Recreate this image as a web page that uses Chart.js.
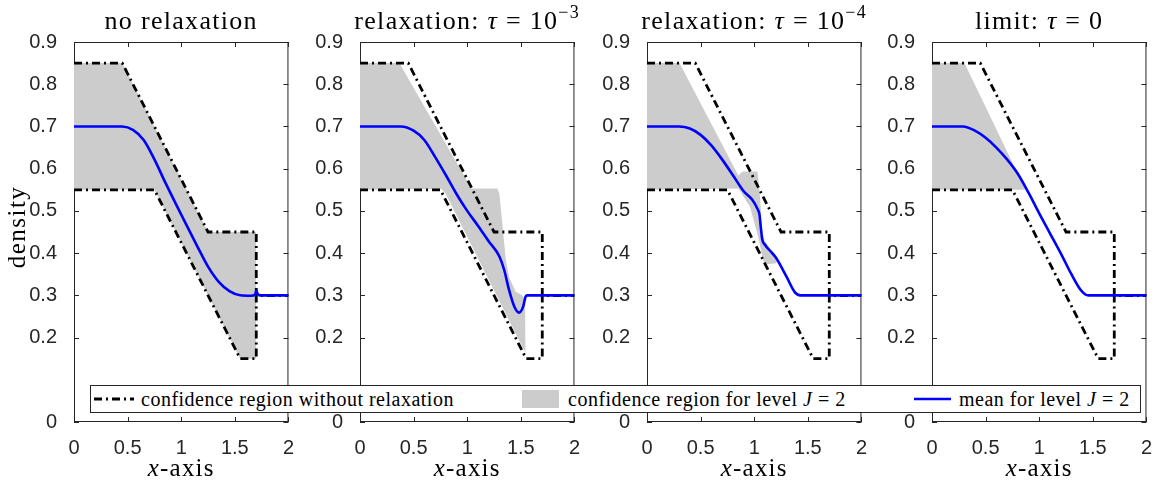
<!DOCTYPE html>
<html>
<head>
<meta charset="utf-8">
<script src="https://cdn.jsdelivr.net/npm/chart.js@4.4.0/dist/chart.umd.min.js"></script>
<style>
  html, body { margin: 0; padding: 0; background: #fff; }
  #wrap { position: relative; width: 1162px; height: 487px; overflow: hidden; }
  .panel { position: absolute; top: 0; }
  #legend { position: absolute; left: 90px; top: 385px; width: 1049px; height: 26px; border: 1px solid #262626; background: #fff;
            font-family: 'Liberation Serif', serif; font-size: 20px; letter-spacing: 0.5px; color: #000; }
  #legend .item { position: absolute; top: 0; line-height: 26px; white-space: nowrap; }
  #legend svg { position: absolute; top: 0; }
</style>
</head>
<body>
<div id="wrap">
  <canvas class="panel" id="p0" width="300" height="487" style="left:0px"></canvas>
  <canvas class="panel" id="p1" width="300" height="487" style="left:286px"></canvas>
  <canvas class="panel" id="p2" width="300" height="487" style="left:573px"></canvas>
  <canvas class="panel" id="p3" width="300" height="487" style="left:858px"></canvas>
  <div id="legend">
    <svg style="left:3px" width="40" height="26"><line x1="0" y1="13" x2="40" y2="13" stroke="#000" stroke-width="2.8" stroke-dasharray="8 4 2 4"/></svg>
    <span class="item" style="left:50px">confidence region without relaxation</span>
    <div style="position:absolute;left:431px;top:4px;width:37px;height:18px;background:#cccccc"></div>
    <span class="item" style="left:477px">confidence region for level <i>J</i> = 2</span>
    <svg style="left:823px" width="37" height="26"><line x1="0" y1="13" x2="37" y2="13" stroke="#0000ff" stroke-width="2.6"/></svg>
    <span class="item" style="left:868px">mean for level <i>J</i> = 2</span>
  </div>
</div>
<script>
// axes
const xTicks = [0, 0.5, 1, 1.5, 2];
const yTicks = [0, 0.2, 0.3, 0.4, 0.5, 0.6, 0.7, 0.8, 0.9];

// confidence region without relaxation (same in all panels)
const outerUpperX = [0, 0.45, 1.25, 1.70, 1.70, 2.0];
const outerUpperY = [0.85, 0.85, 0.45, 0.45, 0.30, 0.30];
const outerLowerX = [0, 0.75, 1.55, 1.70, 1.70, 2.0];
const outerLowerY = [0.55, 0.55, 0.15, 0.15, 0.30, 0.30];

// no relaxation
const band1UpperX = [0, 0.45, 1.25, 1.70];
const band1UpperY = [0.85, 0.85, 0.45, 0.45];
const band1LowerX = [0, 0.75, 1.55, 1.70];
const band1LowerY = [0.55, 0.55, 0.15, 0.15];
const mean1X = [0, 0.45, 0.55, 0.65, 0.75, 0.85, 1.0, 1.15, 1.25, 1.35, 1.45, 1.55, 1.65, 1.69, 1.70, 1.71, 1.73, 2.0];
const mean1Y = [0.70, 0.70, 0.692, 0.668, 0.622, 0.568, 0.491, 0.416, 0.368, 0.332, 0.31, 0.30, 0.299, 0.302, 0.311, 0.305, 0.30, 0.30];

// relaxation tau = 1e-3
const band2UpperX = [0, 0.367, 1.04, 1.28, 1.30, 1.33, 1.36, 1.39, 1.45, 1.51, 1.54, 1.545];
const band2UpperY = [0.85, 0.85, 0.553, 0.553, 0.541, 0.463, 0.384, 0.344, 0.309, 0.301, 0.29, 0.165];
const band2LowerX = [0, 0.76, 0.80, 1.53, 1.545];
const band2LowerY = [0.55, 0.552, 0.54, 0.17, 0.165];
const mean2X = [0, 0.38, 0.5, 0.6, 0.7, 0.8, 0.9, 1.0, 1.1, 1.2, 1.3, 1.345, 1.39, 1.44, 1.483, 1.52, 1.545, 1.56, 2.0];
const mean2Y = [0.70, 0.70, 0.69, 0.668, 0.628, 0.585, 0.54, 0.50, 0.465, 0.428, 0.392, 0.36, 0.313, 0.273, 0.259, 0.272, 0.297, 0.30, 0.30];

// relaxation tau = 1e-4
const band3UpperX = [0, 0.303, 0.853, 0.875, 0.90, 1.03, 1.043, 1.061, 1.067, 1.098, 1.15, 1.205, 1.21];
const band3UpperY = [0.85, 0.85, 0.583, 0.59, 0.593, 0.593, 0.565, 0.51, 0.455, 0.43, 0.41, 0.392, 0.376];
const band3LowerX = [0, 0.853, 0.96, 1.037, 1.083, 1.098, 1.21];
const band3LowerY = [0.55, 0.553, 0.51, 0.439, 0.384, 0.373, 0.376];
const mean3X = [0, 0.30, 0.40, 0.50, 0.60, 0.70, 0.80, 0.90, 0.98, 1.03, 1.05, 1.06, 1.075, 1.10, 1.15, 1.20, 1.30, 1.38, 1.43, 2.0];
const mean3Y = [0.70, 0.70, 0.695, 0.68, 0.655, 0.622, 0.585, 0.547, 0.527, 0.505, 0.49, 0.465, 0.432, 0.42, 0.405, 0.39, 0.345, 0.307, 0.30, 0.30];

// limit tau = 0
const band4UpperX = [0, 0.303, 0.869];
const band4UpperY = [0.85, 0.85, 0.551];
const band4LowerX = [0, 0.869];
const band4LowerY = [0.55, 0.55];
const mean4X = [0, 0.29, 0.40, 0.50, 0.60, 0.70, 0.80, 0.90, 1.00, 1.10, 1.20, 1.30, 1.38, 1.43, 1.46, 2.0];
const mean4Y = [0.70, 0.70, 0.69, 0.673, 0.65, 0.622, 0.588, 0.543, 0.494, 0.447, 0.40, 0.35, 0.315, 0.302, 0.30, 0.30];

const titles = [
  [{t: 'no relaxation'}],
  [{t: 'relaxation: '}, {t: 'τ', it: true}, {t: ' = 10'}, {t: '−3', sup: true}],
  [{t: 'relaxation: '}, {t: 'τ', it: true}, {t: ' = 10'}, {t: '−4', sup: true}],
  [{t: 'limit: '}, {t: 'τ', it: true}, {t: ' = 0'}]
];

const panels = [
  {band: [band1UpperX, band1UpperY, band1LowerX, band1LowerY], mean: [mean1X, mean1Y]},
  {band: [band2UpperX, band2UpperY, band2LowerX, band2LowerY], mean: [mean2X, mean2Y]},
  {band: [band3UpperX, band3UpperY, band3LowerX, band3LowerY], mean: [mean3X, mean3Y]},
  {band: [band4UpperX, band4UpperY, band4LowerX, band4LowerY], mean: [mean4X, mean4Y]}
];

const axisColor = '#262626';
const pts = (xs, ys) => xs.map((x, i) => ({x: x, y: ys[i]}));

function drawParts(ctx, parts, cx, baseline, size, spacing) {
  const fontFor = p => (p.it ? 'italic ' : '') + (p.sup ? Math.round(size * 0.7) : size) + 'px "Liberation Serif", serif';
  ctx.letterSpacing = spacing + 'px';
  let w = 0;
  parts.forEach(p => { ctx.font = fontFor(p); p.w = ctx.measureText(p.t).width; w += p.w; });
  let x = cx - w / 2;
  ctx.textAlign = 'left';
  ctx.textBaseline = 'alphabetic';
  parts.forEach(p => {
    ctx.font = fontFor(p);
    ctx.fillText(p.t, x, baseline - (p.sup ? size * 0.42 : 0));
    x += p.w;
  });
}

// box with inward ticks, like the original axes
const frame = {
  id: 'frame',
  beforeDatasetsDraw(chart) {
    const ctx = chart.ctx, a = chart.chartArea;
    const xs = chart.scales.x, ys = chart.scales.y;
    ctx.save();
    ctx.strokeStyle = axisColor;
    ctx.lineWidth = 1;
    ctx.beginPath();
    ctx.rect(a.left + 0.5, a.top + 0.5, a.right - a.left - 1, a.bottom - a.top - 1);
    xTicks.forEach(v => {
      const px = Math.round(xs.getPixelForValue(v)) + 0.5;
      ctx.moveTo(px, a.bottom); ctx.lineTo(px, a.bottom - 5);
      ctx.moveTo(px, a.top); ctx.lineTo(px, a.top + 5);
    });
    yTicks.forEach(v => {
      const py = Math.round(ys.getPixelForValue(v)) + 0.5;
      ctx.moveTo(a.left, py); ctx.lineTo(a.left + 5, py);
      ctx.moveTo(a.right, py); ctx.lineTo(a.right - 5, py);
    });
    ctx.stroke();
    ctx.restore();
  },
  afterDraw(chart, args, opts) {
    const ctx = chart.ctx, a = chart.chartArea;
    const cx = (a.left + a.right) / 2;
    ctx.save();
    ctx.fillStyle = '#000';
    drawParts(ctx, opts.title, cx, 29, 26, 1.3);
    drawParts(ctx, [{t: 'x', it: true}, {t: '-axis'}], cx, 476, 25, 1.2);
    if (opts.ylabel) {
      ctx.translate(25, 227);
      ctx.rotate(-Math.PI / 2);
      drawParts(ctx, [{t: 'density'}], 0, 0, 25, 1.5);
    }
    ctx.restore();
  }
};

Chart.defaults.font.family = '"Liberation Sans", Arial, sans-serif';
Chart.defaults.font.size = 20;
Chart.defaults.color = axisColor;

const dashStyle = [8, 4, 2, 4];

panels.forEach((p, i) => {
  const [ux, uy, lx, ly] = p.band;
  new Chart(document.getElementById('p' + i), {
    type: 'line',
    data: {
      datasets: [
        {data: pts(p.mean[0], p.mean[1]), borderColor: '#0000ff', borderWidth: 2.6, pointRadius: 0,
         cubicInterpolationMode: 'monotone', fill: false, order: 1},
        {data: pts(outerUpperX, outerUpperY), borderColor: '#000', borderWidth: 2.8, borderDash: dashStyle,
         pointRadius: 0, tension: 0, fill: false, order: 2},
        {data: pts(outerLowerX, outerLowerY), borderColor: '#000', borderWidth: 2.8, borderDash: dashStyle,
         pointRadius: 0, tension: 0, fill: false, order: 2},
        {data: pts(ux, uy), borderColor: 'rgba(0,0,0,0)', borderWidth: 0, backgroundColor: '#cccccc',
         pointRadius: 0, tension: 0, fill: '+1', order: 3},
        {data: pts(lx, ly), borderColor: 'rgba(0,0,0,0)', borderWidth: 0, pointRadius: 0, tension: 0,
         fill: false, order: 3}
      ]
    },
    options: {
      responsive: false,
      animation: false,
      events: [],
      layout: {padding: {top: 42, right: 8, left: 0, bottom: 0}},
      plugins: {
        legend: {display: false},
        tooltip: {enabled: false},
        frame: {title: titles[i], ylabel: i === 0}
      },
      scales: {
        x: {
          type: 'linear', min: 0, max: 2,
          grid: {display: false}, border: {display: false},
          afterBuildTicks: s => { s.ticks = xTicks.map(v => ({value: v})); },
          afterFit: s => { s.height = 65; },
          ticks: {padding: 6, maxRotation: 0, callback: v => String(v)}
        },
        y: {
          min: 0, max: 0.9,
          grid: {display: false}, border: {display: false},
          afterBuildTicks: s => { s.ticks = yTicks.map(v => ({value: v})); },
          afterFit: s => { s.width = 74; },
          ticks: {padding: 9, callback: v => v === 0 ? '0' : v.toFixed(1)}
        }
      }
    },
    plugins: [frame]
  });
});
</script>
</body>
</html>
